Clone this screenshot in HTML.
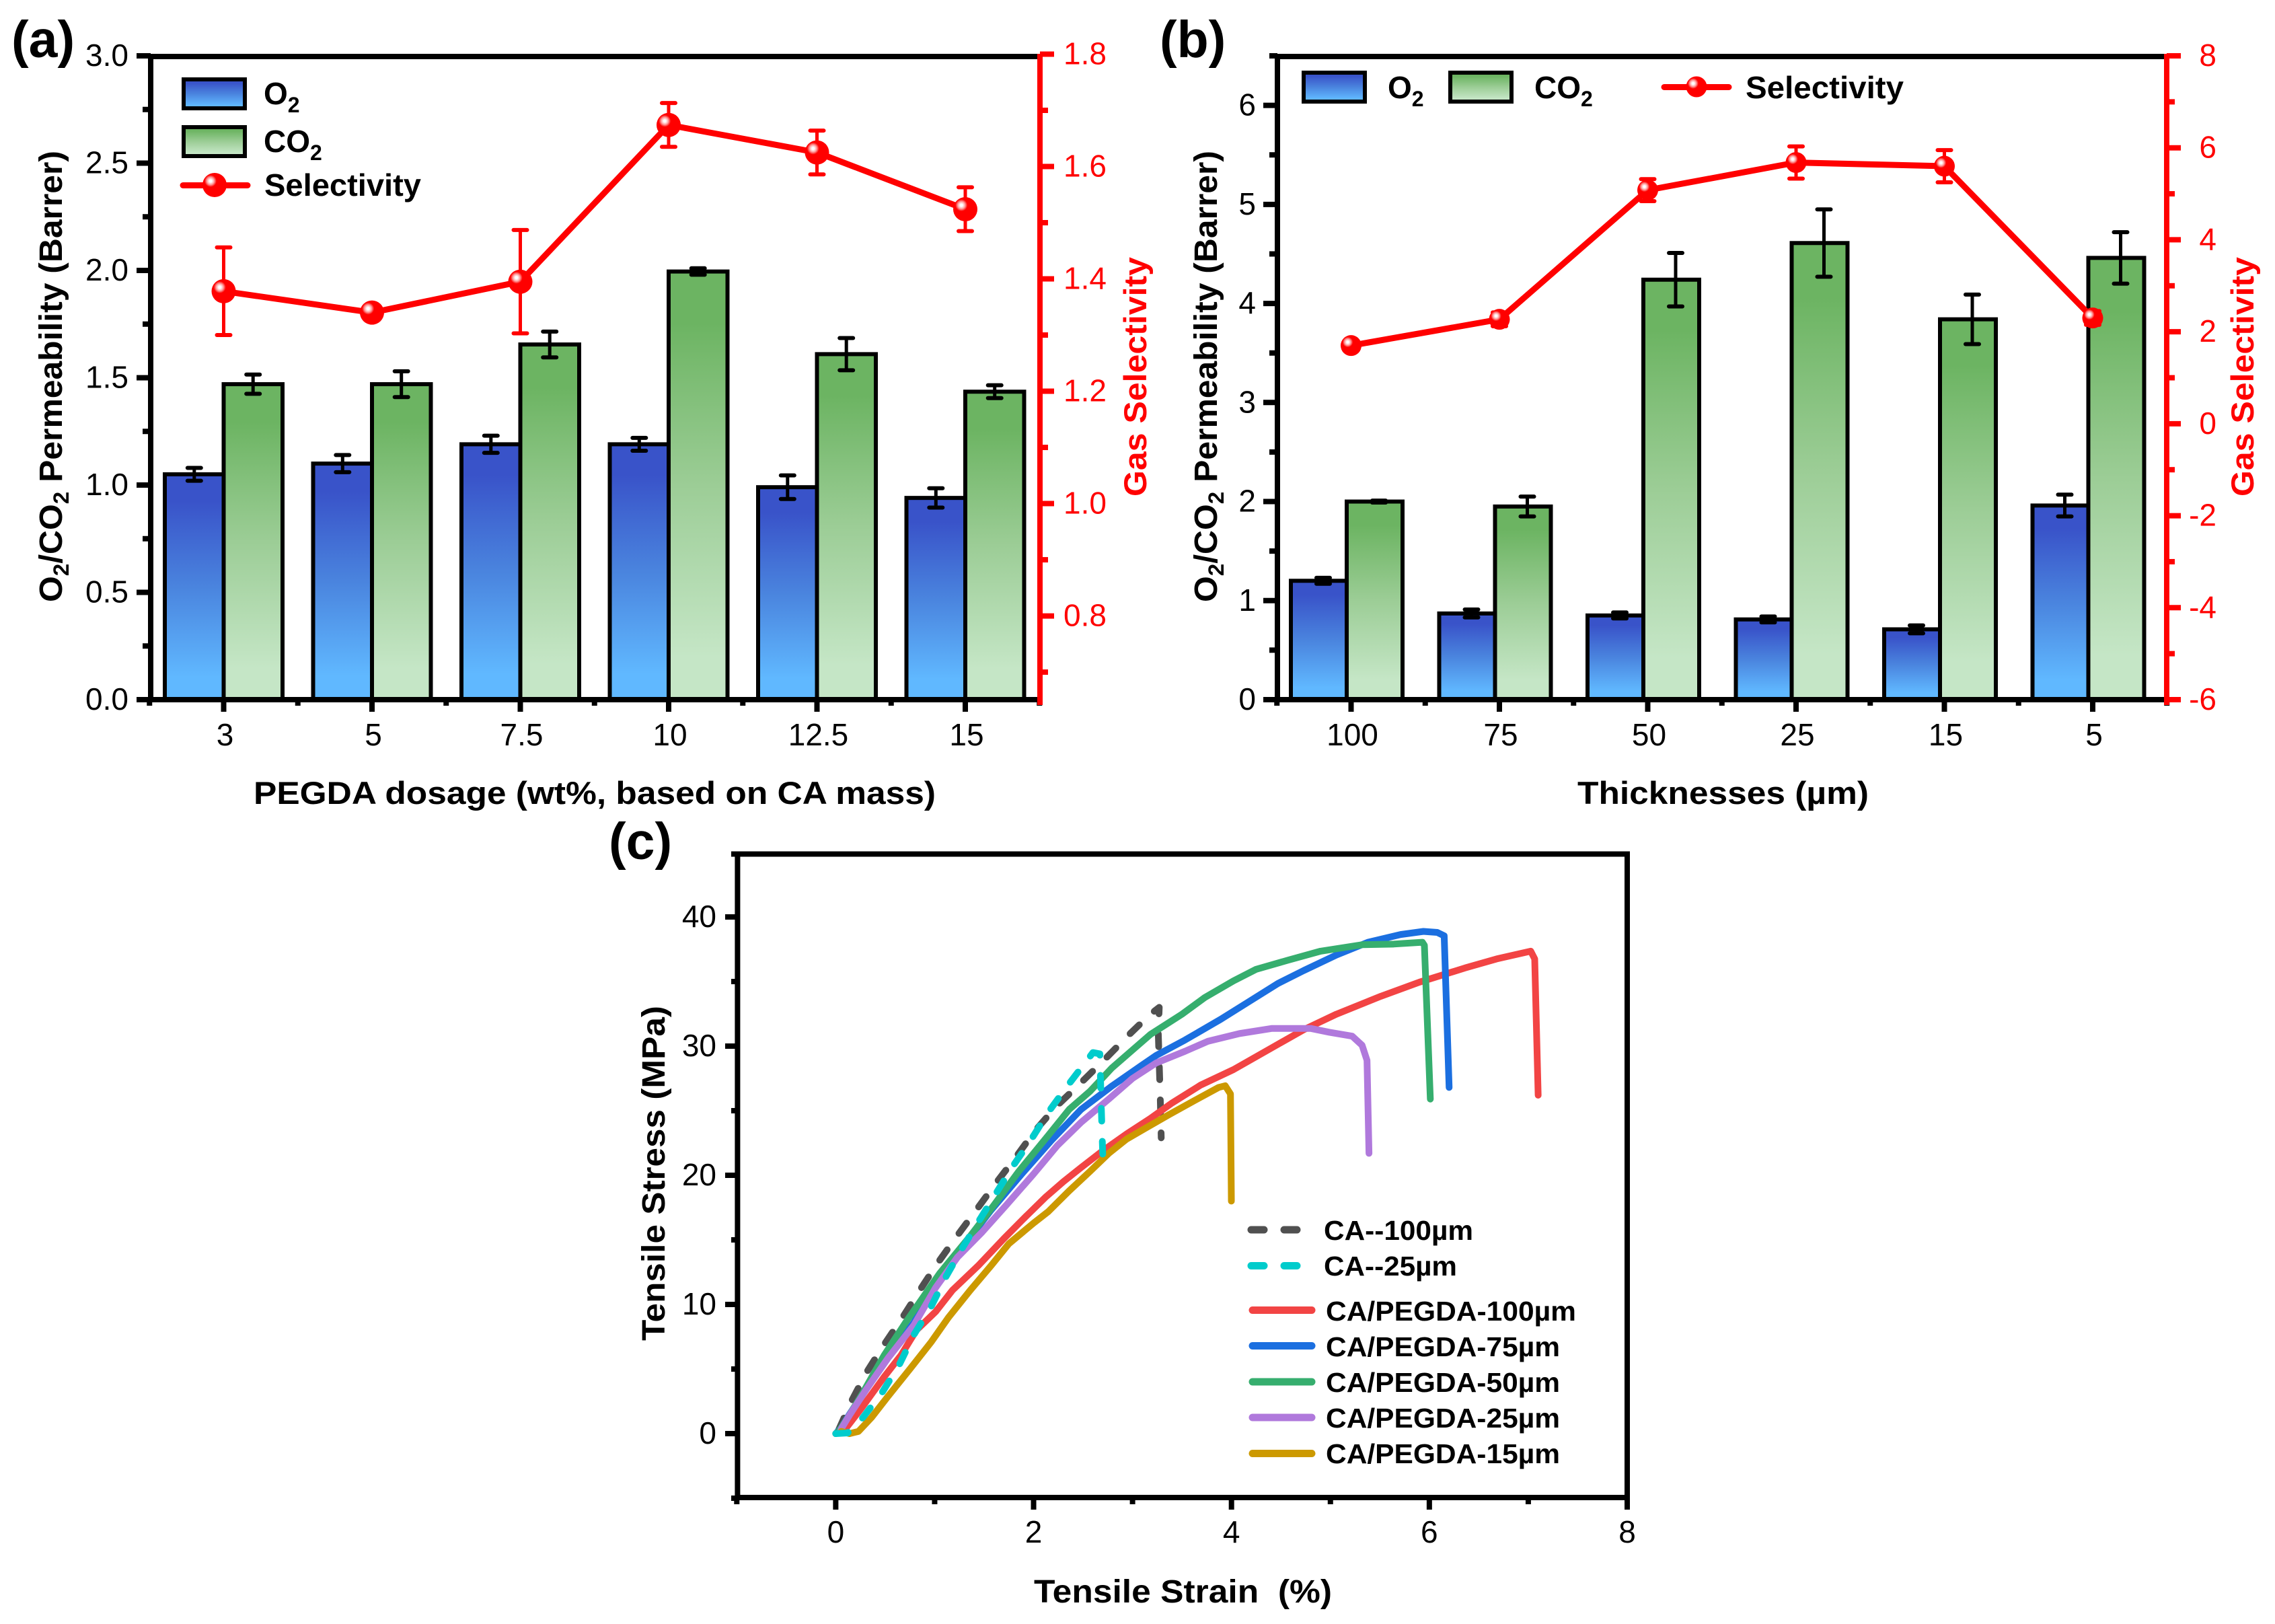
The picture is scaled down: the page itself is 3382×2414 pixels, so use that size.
<!DOCTYPE html>
<html lang="en">
<head>
<meta charset="utf-8">
<title>Gas permeability, selectivity and tensile curves</title>
<style>
html,body{margin:0;padding:0;background:#fff;}
svg{display:block;position:absolute;left:0;top:0;font-family:"Liberation Sans",Arial,sans-serif;}
.b{font-weight:700;}
</style>
</head>
<body>
<svg id="figure" xmlns="http://www.w3.org/2000/svg" width="3382" height="2414" viewBox="0 0 3382 2414">
<defs>
<linearGradient id="gradO2" x1="0" y1="0" x2="0" y2="1">
<stop offset="0.12" stop-color="#3953C9"/><stop offset="0.5" stop-color="#4A84DE"/><stop offset="0.9" stop-color="#60B8FF"/>
</linearGradient>
<linearGradient id="gradCO2" x1="0" y1="0" x2="0" y2="1">
<stop offset="0.12" stop-color="#6CB462"/><stop offset="0.5" stop-color="#9CCD96"/><stop offset="0.9" stop-color="#C5E6C6"/>
</linearGradient>
<radialGradient id="gradShine">
<stop offset="0.2" stop-color="#ffffff"/><stop offset="0.6" stop-color="#ff9c9c"/><stop offset="1" stop-color="#ff0000"/>
</radialGradient>
</defs>
<rect width="3382" height="2414" fill="#fff"/>

<g id="panelA"></g>
<g id="panelB"></g>
<g id="panelC"></g>

<text class="b" x="17" y="85" font-size="77">(a)</text>
<text class="b" x="1724" y="85" font-size="77">(b)</text>
<text class="b" x="905" y="1277" font-size="77">(c)</text>

<!-- axis titles -->
<text class="b" font-size="48" textLength="671" lengthAdjust="spacingAndGlyphs" transform="translate(92,895) rotate(-90)">O<tspan font-size="32" dy="10">2</tspan><tspan dy="-10">/CO</tspan><tspan font-size="32" dy="10">2</tspan><tspan dy="-10"> Permeability (Barrer)</tspan></text>
<text class="b" font-size="47" fill="#ff0000" textLength="356" lengthAdjust="spacingAndGlyphs" transform="translate(1704,738) rotate(-90)">Gas Selectivity</text>
<text class="b" font-size="47" x="377" y="1195" textLength="1014" lengthAdjust="spacingAndGlyphs">PEGDA dosage (wt%, based on CA mass)</text>

<text class="b" font-size="48" textLength="671" lengthAdjust="spacingAndGlyphs" transform="translate(1809,895) rotate(-90)">O<tspan font-size="32" dy="10">2</tspan><tspan dy="-10">/CO</tspan><tspan font-size="32" dy="10">2</tspan><tspan dy="-10"> Permeability (Barrer)</tspan></text>
<text class="b" font-size="47" fill="#ff0000" textLength="356" lengthAdjust="spacingAndGlyphs" transform="translate(3350,738) rotate(-90)">Gas Selectivity</text>
<text class="b" font-size="47" x="2345" y="1195" textLength="433" lengthAdjust="spacingAndGlyphs">Thicknesses (µm)</text>

<text class="b" font-size="48" textLength="498" lengthAdjust="spacingAndGlyphs" transform="translate(988,1993) rotate(-90)">Tensile Stress (MPa)</text>
<text class="b" font-size="48" x="1537" y="2382" textLength="443" lengthAdjust="spacingAndGlyphs" xml:space="preserve">Tensile Strain  (%)</text>

<!-- legend a -->
<g>
<g>
<rect x="273" y="118" width="91" height="43" fill="url(#gradO2)" stroke="#000" stroke-width="6"/>
<text class="b" x="392" y="155" font-size="46">O<tspan font-size="32" dy="12">2</tspan></text>
</g>
<g>
<rect x="273" y="189" width="91" height="43" fill="url(#gradCO2)" stroke="#000" stroke-width="6"/>
<text class="b" x="392" y="226" font-size="46">CO<tspan font-size="32" dy="12">2</tspan></text>
</g>
<g>
<line x1="272" y1="275.5" x2="368" y2="275.5" stroke="#ff0000" stroke-width="9" stroke-linecap="round"/>
<circle cx="319" cy="275" r="18" fill="#ff0000"/>
<circle cx="313" cy="269" r="9" fill="url(#gradShine)"/>
<text class="b" x="393" y="291" font-size="46" textLength="233" lengthAdjust="spacingAndGlyphs">Selectivity</text>
</g>
</g>

<!-- legend b -->
<g>
<g>
<rect x="1938" y="108" width="91" height="43" fill="url(#gradO2)" stroke="#000" stroke-width="6"/>
<text class="b" x="2063" y="146" font-size="46">O<tspan font-size="32" dy="12">2</tspan></text>
</g>
<g>
<rect x="2156" y="108" width="91" height="43" fill="url(#gradCO2)" stroke="#000" stroke-width="6"/>
<text class="b" x="2281" y="146" font-size="46">CO<tspan font-size="32" dy="12">2</tspan></text>
</g>
<g>
<line x1="2474" y1="129.5" x2="2570" y2="129.5" stroke="#ff0000" stroke-width="9" stroke-linecap="round"/>
<circle cx="2522" cy="129" r="15.5" fill="#ff0000"/>
<circle cx="2517" cy="124" r="8" fill="url(#gradShine)"/>
<text class="b" x="2595" y="146" font-size="46" textLength="235" lengthAdjust="spacingAndGlyphs">Selectivity</text>
</g>
</g>

<!-- legend c -->
<g font-size="41" font-weight="700">
<g>
<line x1="1860" y1="1828" x2="1928" y2="1828" stroke="#505050" stroke-width="11" stroke-linecap="round" stroke-dasharray="19 30"/>
<text x="1968" y="1843" textLength="222" lengthAdjust="spacingAndGlyphs">CA--100µm</text>
</g>
<g>
<line x1="1860" y1="1881.5" x2="1928" y2="1881.5" stroke="#00CCCC" stroke-width="11" stroke-linecap="round" stroke-dasharray="19 30"/>
<text x="1968" y="1896" textLength="198" lengthAdjust="spacingAndGlyphs">CA--25µm</text>
</g>
<g>
<line x1="1862" y1="1947.5" x2="1950" y2="1947.5" stroke="#F24444" stroke-width="11" stroke-linecap="round"/>
<text x="1971" y="1963" textLength="372" lengthAdjust="spacingAndGlyphs">CA/PEGDA-100µm</text>
</g>
<g>
<line x1="1862" y1="2000.5" x2="1950" y2="2000.5" stroke="#1B6FE0" stroke-width="11" stroke-linecap="round"/>
<text x="1971" y="2016" textLength="348" lengthAdjust="spacingAndGlyphs">CA/PEGDA-75µm</text>
</g>
<g>
<line x1="1862" y1="2054" x2="1950" y2="2054" stroke="#36AE6E" stroke-width="11" stroke-linecap="round"/>
<text x="1971" y="2069" textLength="348" lengthAdjust="spacingAndGlyphs">CA/PEGDA-50µm</text>
</g>
<g>
<line x1="1862" y1="2107" x2="1950" y2="2107" stroke="#B079DC" stroke-width="11" stroke-linecap="round"/>
<text x="1971" y="2122" textLength="348" lengthAdjust="spacingAndGlyphs">CA/PEGDA-25µm</text>
</g>
<g>
<line x1="1862" y1="2160.5" x2="1950" y2="2160.5" stroke="#CC9900" stroke-width="11" stroke-linecap="round"/>
<text x="1971" y="2175" textLength="348" lengthAdjust="spacingAndGlyphs">CA/PEGDA-15µm</text>
</g>
</g>
</svg>

<script>
// ---------- Panel (a) data ----------
const aCategories = ['3', '5', '7.5', '10', '12.5', '15'];
const aO2 = [1.05, 1.10, 1.19, 1.19, 0.99, 0.94];
const aO2Err = [0.03, 0.04, 0.04, 0.03, 0.055, 0.045];
const aCO2 = [1.47, 1.47, 1.655, 1.995, 1.61, 1.435];
const aCO2Err = [0.045, 0.06, 0.06, 0.015, 0.075, 0.03];
const aSelectivity = [1.378, 1.34, 1.395, 1.674, 1.625, 1.524];
const aSelectivityErr = [0.078, 0.01, 0.092, 0.039, 0.039, 0.039];
const aLeftTicks = ['0.0', '0.5', '1.0', '1.5', '2.0', '2.5', '3.0'];
const aLeftMinor = [0.25, 0.75, 1.25, 1.75, 2.25, 2.75];
const aRightTicks = ['0.8', '1.0', '1.2', '1.4', '1.6', '1.8'];
const aRightMinor = [0.7, 0.9, 1.1, 1.3, 1.5, 1.7];

// ---------- Panel (b) data ----------
const bCategories = ['100', '75', '50', '25', '15', '5'];
const bO2 = [1.2, 0.87, 0.85, 0.81, 0.71, 1.96];
const bO2Err = [0.03, 0.04, 0.03, 0.03, 0.04, 0.11];
const bCO2 = [2.0, 1.95, 4.24, 4.61, 3.84, 4.46];
const bCO2Err = [0.01, 0.1, 0.27, 0.34, 0.25, 0.26];
const bSelectivity = [1.7, 2.27, 5.08, 5.68, 5.6, 2.3];
const bSelectivityErr = [0.1, 0.15, 0.24, 0.35, 0.35, 0.15];
const bLeftTicks = ['0', '1', '2', '3', '4', '5', '6'];
const bLeftMinor = [0.5, 1.5, 2.5, 3.5, 4.5, 5.5, 6.5];
const bRightTicks = ['-6', '-4', '-2', '0', '2', '4', '6', '8'];
const bRightMinor = [-5, -3, -1, 1, 3, 5, 7];

// ---------- Panel (c) data ----------
const cXTicks = ['0', '2', '4', '6', '8'];
const cXMinor = [-1, 1, 3, 5, 7];
const cYTicks = ['0', '10', '20', '30', '40'];
const cYMinor = [-5, 5, 15, 25, 35, 45];

const ca100Strain = [0.03, 0.165, 0.316, 0.49, 0.684, 0.858, 1.03, 1.226, 1.42, 1.62, 1.82, 2.01, 2.225, 2.47, 2.71, 2.94, 3.17, 3.27, 3.26, 3.28, 3.29];
const ca100Stress = [0.3, 2.6, 4.8, 6.9, 9.1, 11.2, 13.2, 15.3, 17.3, 19.4, 21.4, 23.4, 25.3, 27.1, 28.9, 30.7, 32.4, 33, 31.07, 26.1, 22.9];
const ca25Strain = [0, 0.12, 0.27, 0.47, 0.64, 0.79, 0.966, 1.118, 1.29, 1.45, 1.62, 1.79, 1.97, 2.15, 2.35, 2.54, 2.6, 2.67, 2.68, 2.69, 2.70];
const ca25Stress = [0, 0.05, 1.2, 3.2, 5.3, 7.65, 9.86, 12.2, 14.5, 16.5, 18.6, 20.7, 22.7, 24.9, 27, 28.9, 29.5, 29.4, 26.4, 23.8, 21.3];
const pegda100Strain = [0, 0.03, 0.10, 0.27, 0.49, 0.66, 0.815, 1.01, 1.18, 1.44, 1.70, 1.92, 2.12, 2.30, 2.48, 2.70, 2.94, 3.18, 3.40, 3.69, 4.02, 4.41, 4.73, 5.06, 5.51, 5.90, 6.36, 6.68, 7.025, 7.065, 7.10];
const pegda100Stress = [0, 0.07, 0.38, 2.07, 4.4, 6.07, 8.0, 9.44, 11.1, 13.0, 15.1, 16.8, 18.3, 19.5, 20.6, 21.9, 23.2, 24.4, 25.6, 26.99, 28.18, 29.88, 31.27, 32.47, 33.86, 34.95, 36.05, 36.75, 37.35, 36.75, 26.2];
const pegda75Strain = [0, 0.05, 0.14, 0.32, 0.53, 0.79, 1.0, 1.36, 1.57, 1.88, 2.18, 2.48, 2.79, 3.09, 3.24, 3.53, 3.89, 4.18, 4.47, 4.73, 5.06, 5.38, 5.71, 5.94, 6.08, 6.15, 6.2];
const pegda75Stress = [0, 0.4, 1.5, 3.6, 6.0, 8.6, 11.4, 15.2, 17.3, 20.1, 22.7, 25.1, 26.9, 28.5, 29.28, 30.47, 32.07, 33.46, 34.85, 35.85, 37.05, 38.04, 38.64, 38.88, 38.8, 38.54, 26.8];
const pegda50Strain = [0, 0.03, 0.14, 0.27, 0.49, 0.706, 1.05, 1.36, 1.6, 1.85, 2.0, 2.15, 2.36, 2.57, 2.79, 3.0, 3.18, 3.5, 3.73, 4.02, 4.25, 4.57, 4.9, 5.32, 5.64, 5.93, 5.95, 6.01];
const pegda50Stress = [0, 0.17, 1.44, 3.1, 6.07, 8.6, 12.4, 15.3, 17.7, 20.3, 21.7, 23.1, 25.1, 26.5, 28.3, 29.7, 30.9, 32.47, 33.76, 35.05, 35.95, 36.65, 37.35, 37.85, 37.9, 38.04, 37.8, 25.9];
const pegda25Strain = [0.05, 0.056, 0.14, 0.316, 0.53, 0.79, 1.01, 1.23, 1.48, 1.725, 2.0, 2.24, 2.48, 2.76, 3.0, 3.24, 3.53, 3.76, 4.08, 4.41, 4.8, 4.99, 5.22, 5.32, 5.37, 5.39];
const pegda25Stress = [0.2, 0.38, 1.44, 3.5, 5.86, 8.4, 11.3, 13.65, 15.6, 17.7, 20.1, 22.3, 24.1, 25.9, 27.5, 28.7, 29.6, 30.37, 30.97, 31.37, 31.37, 31.07, 30.77, 30.07, 28.9, 21.7];
const pegda15Strain = [0.056, 0.14, 0.23, 0.36, 0.53, 0.75, 0.966, 1.14, 1.36, 1.57, 1.75, 2.0, 2.15, 2.36, 2.57, 2.76, 2.94, 3.12, 3.37, 3.63, 3.87, 3.937, 3.99, 3.999];
const pegda15Stress = [0.17, 0, 0.17, 1.23, 2.9, 5.0, 7.1, 9.0, 11.1, 13.0, 14.7, 16.3, 17.2, 18.8, 20.3, 21.7, 22.8, 23.6, 24.7, 25.8, 26.8, 26.93, 26.3, 18.0];

// ---------- helpers ----------
const SVGNS = 'http://www.w3.org/2000/svg';
function mk(tag, parent, attrs) {
  const el = document.createElementNS(SVGNS, tag);
  for (const k in attrs) el.setAttribute(k, attrs[k]);
  parent.appendChild(el);
  return el;
}
function linear(d0, d1, r0, r1) {
  return function (v) { return r0 + (v - d0) / (d1 - d0) * (r1 - r0); };
}
function drawLine(parent, name, x1, y1, x2, y2, color, width, cap) {
  const el = mk('line', parent, { x1: x1, y1: y1, x2: x2, y2: y2, stroke: color, 'stroke-width': width, 'stroke-linecap': cap || 'butt' });
  
  
  return el;
}
function drawLabel(parent, name, x, y, text, anchor, color) {
  const el = mk('text', parent, { x: x, y: y, 'font-size': 46, 'text-anchor': anchor, fill: color });
  el.textContent = text;
  
  
  return el;
}
function drawYTicks(parent, prefix, scale, axisX, dir, labels, minor, color, labelX, anchor) {
  labels.forEach(function (lab) {
    const y = scale(parseFloat(lab));
    drawLine(parent, prefix + '-major-tick', axisX, y, axisX + dir * 21, y, color, 8);
    drawLabel(parent, prefix + '-tick-label', labelX, y + 15, lab, anchor, color);
  });
  minor.forEach(function (v) {
    const y = scale(v);
    drawLine(parent, prefix + '-minor-tick', axisX, y, axisX + dir * 12, y, color, 8);
  });
}
function drawMarker(parent, cx, cy, r) {
  const base = mk('circle', parent, { cx: cx, cy: cy, r: r, fill: '#ff0000' });
  
  
  const shine = mk('circle', parent, { cx: cx - r * 0.32, cy: cy - r * 0.33, r: r * 0.5, fill: 'url(#gradShine)' });
  
  
}
function drawError(parent, name, x, yLo, yHi, color) {
  drawLine(parent, name, x, yLo, x, yHi, color, 5);
  drawLine(parent, name + '-cap', x - 10, yHi, x + 10, yHi, color, 6, 'round');
  drawLine(parent, name + '-cap', x - 10, yLo, x + 10, yLo, color, 6, 'round');
}

function drawBarPanel(g, p, cats, o2, o2Err, co2, co2Err, sel, selErr, leftTicks, leftMinor, rightTicks, rightMinor) {
  const xAt = function (i) { return p.firstTick + i * p.step; };
  cats.forEach(function (cat, i) {
    const mid = xAt(i) + p.barShift;
    const o = mk('rect', g, { x: mid - p.barW, y: p.yLeft(o2[i]), width: p.barW, height: p.bottom - p.yLeft(o2[i]), fill: 'url(#gradO2)', stroke: '#000', 'stroke-width': 6 });
    
    
    const c = mk('rect', g, { x: mid, y: p.yLeft(co2[i]), width: p.barW, height: p.bottom - p.yLeft(co2[i]), fill: 'url(#gradCO2)', stroke: '#000', 'stroke-width': 6 });
    
    
  });
  cats.forEach(function (cat, i) {
    drawError(g, 'error-bar-o2-' + cat, xAt(i) - p.errOffset, p.yLeft(o2[i] - o2Err[i]), p.yLeft(o2[i] + o2Err[i]), '#000');
    drawError(g, 'error-bar-co2-' + cat, xAt(i) + p.errOffset, p.yLeft(co2[i] - co2Err[i]), p.yLeft(co2[i] + co2Err[i]), '#000');
  });
  // frame
  drawLine(g, 'top-axis-line', p.left - 4, p.top, p.right + 4, p.top, '#000', 8);
  drawLine(g, 'x-axis-line', p.left, p.bottom, p.right, p.bottom, '#000', 8);
  drawLine(g, 'left-axis-line', p.left, p.top - 4, p.left, p.bottom + 4, '#000', 8);
  cats.forEach(function (cat, i) {
    drawLine(g, 'x-major-tick', xAt(i), p.bottom, xAt(i), p.bottom + 18, '#000', 8);
    drawLabel(g, 'x-tick-label', xAt(i) + 2, 1108, cat, 'middle', '#000');
  });
  for (let i = 0; i <= cats.length; i++) {
    const mx = xAt(i) - p.step / 2;
    drawLine(g, 'x-minor-tick', mx, p.bottom, mx, p.bottom + 9, '#000', 8);
  }
  drawYTicks(g, 'left-axis', p.yLeft, p.left, -1, leftTicks, leftMinor, '#000', p.leftLabelX, 'end');
  drawLine(g, 'right-axis-line', p.right, p.top - 4, p.right, p.bottom + 8, '#ff0000', 8);
  drawYTicks(g, 'right-axis', p.yRight, p.right, 1, rightTicks, rightMinor, '#ff0000', p.rightLabelX, p.rightAnchor);
  // selectivity
  const pts = sel.map(function (v, i) { return xAt(i) + ',' + p.yRight(v); }).join(' ');
  const line = mk('polyline', g, { points: pts, fill: 'none', stroke: '#ff0000', 'stroke-width': 9, 'stroke-linejoin': 'round' });
  
  
  sel.forEach(function (v, i) {
    drawError(g, 'error-bar-selectivity-' + cats[i], xAt(i), p.yRight(v - selErr[i]), p.yRight(v + selErr[i]), '#ff0000');
    drawMarker(g, xAt(i), p.yRight(v), p.markerR);
  });
}

// ---------- build panel a ----------
drawBarPanel(document.getElementById('panelA'), {
  left: 224, right: 1546, top: 84, bottom: 1040,
  firstTick: 332.5, step: 220.5, barW: 87.5, barShift: 0, errOffset: 43.7,
  yLeft: linear(0, 3, 1040, 83), yRight: linear(0.651, 1.797, 1040, 83),
  leftLabelX: 191, rightLabelX: 1581, rightAnchor: 'start', markerR: 18
}, aCategories, aO2, aO2Err, aCO2, aCO2Err, aSelectivity, aSelectivityErr, aLeftTicks, aLeftMinor, aRightTicks, aRightMinor);

// ---------- build panel b ----------
drawBarPanel(document.getElementById('panelB'), {
  left: 1899, right: 3221, top: 84, bottom: 1040,
  firstTick: 2008.5, step: 220.5, barW: 83, barShift: -6.5, errOffset: 41.5,
  yLeft: linear(0, 6.5, 1040, 83), yRight: linear(-6, 8, 1040, 83),
  leftLabelX: 1867, rightLabelX: 3295, rightAnchor: 'end', markerR: 15.5
}, bCategories, bO2, bO2Err, bCO2, bCO2Err, bSelectivity, bSelectivityErr, bLeftTicks, bLeftMinor, bRightTicks, bRightMinor);

// ---------- build panel c ----------
(function () {
  const g = document.getElementById('panelC');
  const x = linear(-1, 8, 1095.3, 2419);
  const y = linear(-5, 45, 2227, 1267);
  function curve(name, xs, ys, color, dash) {
    const pts = xs.map(function (v, i) { return x(v) + ',' + y(ys[i]); }).join(' ');
    const el = mk('polyline', g, { points: pts, fill: 'none', stroke: color, 'stroke-width': 10, 'stroke-linejoin': 'round', 'stroke-linecap': 'round' });
    if (dash) el.setAttribute('stroke-dasharray', dash);
    
    
  }
  curve('curve-ca-100um', ca100Strain, ca100Stress, '#505050', '19 30');
  curve('curve-pegda-100um', pegda100Strain, pegda100Stress, '#F24444');
  curve('curve-pegda-75um', pegda75Strain, pegda75Stress, '#1B6FE0');
  curve('curve-pegda-50um', pegda50Strain, pegda50Stress, '#36AE6E');
  curve('curve-pegda-25um', pegda25Strain, pegda25Stress, '#B079DC');
  curve('curve-pegda-15um', pegda15Strain, pegda15Stress, '#CC9900');
  curve('curve-ca-25um', ca25Strain, ca25Stress, '#00CCCC', '19 30');

  drawLine(g, 'top-axis-line', 1087, 1269.5, 2423, 1269.5, '#000', 8);
  drawLine(g, 'right-axis-line', 2419, 1266, 2419, 2230, '#000', 8);
  drawLine(g, 'x-axis-line', 1096, 2226, 2423, 2226, '#000', 8);
  drawLine(g, 'left-axis-line', 1096.4, 1266, 1096.4, 2230, '#000', 8);
  cXTicks.forEach(function (lab) {
    const px = x(parseFloat(lab));
    drawLine(g, 'x-major-tick', px, 2226, px, 2244, '#000', 8);
    drawLabel(g, 'x-tick-label', px, 2293, lab, 'middle', '#000');
  });
  cXMinor.forEach(function (v) {
    drawLine(g, 'x-minor-tick', x(v), 2226, x(v), 2236, '#000', 8);
  });
  cYTicks.forEach(function (lab) {
    const py = y(parseFloat(lab));
    drawLine(g, 'y-major-tick', 1096, py, 1078, py, '#000', 8);
    drawLabel(g, 'y-tick-label', 1065, py + 15, lab, 'end', '#000');
  });
  cYMinor.forEach(function (v) {
    const py = v === 45 ? 1269.5 : y(v);
    drawLine(g, 'y-minor-tick', 1096, py, 1087, py, '#000', 8);
  });
})();
</script>
</body>
</html>
